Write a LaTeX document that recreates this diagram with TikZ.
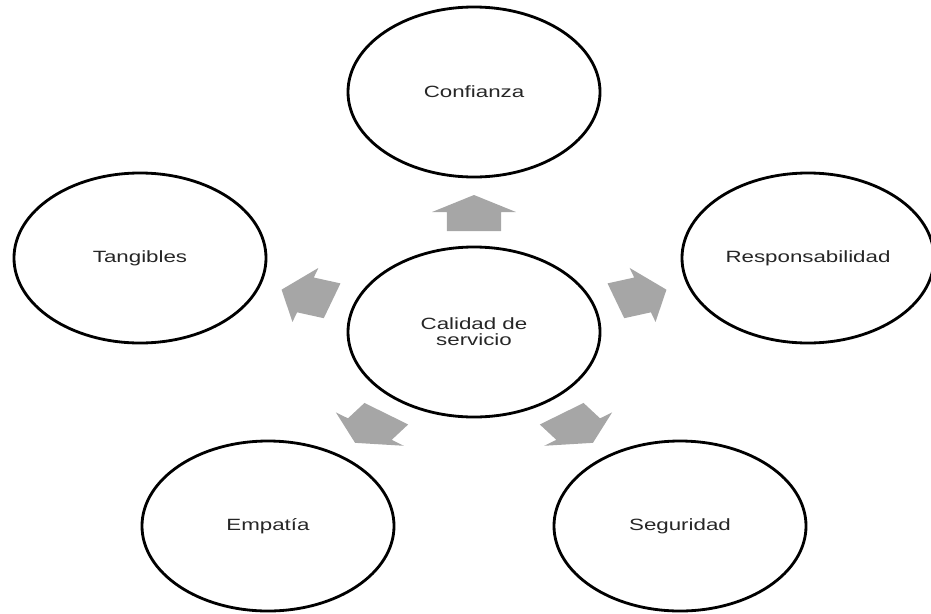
\documentclass[tikz,border=0pt]{standalone}
\usepackage{fontspec}
\usepackage{tikz}
\usetikzlibrary{shapes.geometric, positioning}
\newfontfamily\labelfont{Liberation Sans}[FakeStretch=1.37]
\definecolor{arrowgray}{HTML}{A6A6A6}

\begin{document}
\begin{tikzpicture}[x=0.03cm, y=-0.03cm,
    aspect/.style={draw, ellipse, line width=2.4pt, minimum width=7.56cm, minimum height=5.1cm,
        align=center, text=black!85, font=\labelfont\fontsize{13.9}{13.4}\selectfont},
    blockarrow/.style={fill=arrowgray}]
    \useasboundingbox (0,0) rectangle (931,613);

    \node[aspect] (cal)  at (474,332) {Calidad de\\servicio};
    \node[aspect] (conf) at (474,92)  {Confianza};
    \node[aspect] (resp) at (808,258) {Responsabilidad};
    \node[aspect] (seg)  at (680,526) {Seguridad};
    \node[aspect] (emp)  at (268,526) {Empatía};
    \node[aspect] (tang) at (140,258) {Tangibles};

    \foreach \ang in {90,18,-54,-126,162}
        \fill[blockarrow, shift={(cal.center)}, xscale=1.477, rotate=\ang]
            (101,-18.3) -- (120,-18.3) -- (120,-28.4) -- (137,0)
            -- (120,28.4) -- (120,18.3) -- (101,18.3) -- cycle;
\end{tikzpicture}
\end{document}
